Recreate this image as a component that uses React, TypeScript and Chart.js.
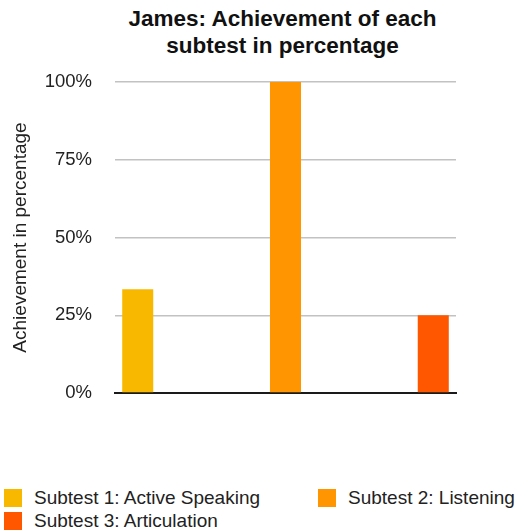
import React, { useEffect, useRef } from "react";
import { Chart, registerables } from "chart.js";

Chart.register(...registerables);

const titleLines = ["James: Achievement of each", "subtest in percentage"];
const categories = ["James"];
const seriesNames = [
  "Subtest 1: Active Speaking",
  "Subtest 2: Listening",
  "Subtest 3: Articulation",
];
const seriesValues = [33.33, 100, 25];
const seriesColors = ["#F9B800", "#FF9500", "#FF5700"];
const yTicks = [0, 25, 50, 75, 100];
const yTitle = "Achievement in percentage";

const FONT = "'Liberation Sans', Arial, Helvetica, sans-serif";

export default function App() {
  const canvasRef = useRef<HTMLCanvasElement | null>(null);

  useEffect(() => {
    const canvas = canvasRef.current;
    if (!canvas) return;
    const chart = new Chart(canvas, {
      type: "bar",
      data: {
        labels: categories,
        datasets: seriesNames.map((name, i) => ({
          label: name,
          data: [seriesValues[i]],
          backgroundColor: seriesColors[i],
          borderWidth: 0,
          categoryPercentage: 1.3,
          barPercentage: 0.21,
        })),
      },
      options: {
        responsive: false,
        animation: false,
        layout: { padding: { top: 12, bottom: 17, right: 72, left: 0 } },
        plugins: {
          legend: { display: false },
          title: { display: false },
          tooltip: { enabled: false },
        },
        scales: {
          x: {
            type: "category",
            ticks: { display: false },
            grid: { display: false, drawTicks: false },
            border: { display: true, color: "#1a1a1a", width: 2 },
          },
          y: {
            min: yTicks[0],
            max: yTicks[yTicks.length - 1],
            afterBuildTicks: (scale: any) => {
              scale.ticks = yTicks.map((v) => ({ value: v }));
            },
            afterFit: (scale: any) => {
              scale.width = 115;
              scale.paddingTop = 0;
              scale.paddingBottom = 0;
            },
            ticks: {
              padding: 23,
              color: "#222",
              font: { family: FONT, size: 18.5 },
              callback: (v: any) => `${v}%`,
            },
            grid: {
              drawTicks: false,
              lineWidth: 1.5,
              color: (ctx: any) =>
                ctx.tick && ctx.tick.value === 0 ? "rgba(0,0,0,0)" : "#c2c2c2",
            },
            border: { display: false },
            title: {
              display: true,
              text: yTitle,
              color: "#222",
              font: { family: FONT, size: 19 },
              padding: { top: 9, bottom: 0 },
            },
          },
        },
      },
    });
    return () => chart.destroy();
  }, []);

  return (
    <div
      style={{
        position: "absolute",
        left: 0,
        top: 0,
        width: 528,
        height: 531,
        background: "#fff",
        fontFamily: FONT,
        color: "#222",
      }}
    >
      <div
        style={{
          position: "absolute",
          left: 82,
          top: 6,
          width: 401,
          textAlign: "center",
          fontWeight: "bold",
          fontSize: 22.5,
          lineHeight: "26.6px",
          whiteSpace: "nowrap",
          color: "#111",
        }}
      >
        {titleLines.map((t, i) => (
          <div key={i}>{t}</div>
        ))}
      </div>
      <div style={{ position: "absolute", left: 0, top: 70, width: 528, height: 340 }}>
        <canvas ref={canvasRef} width={528} height={340} style={{ display: "block" }} />
      </div>
      {seriesNames.map((name, i) => {
        const col = i === 1 ? 1 : 0;
        const row = i === 2 ? 1 : 0;
        const boxLeft = col === 0 ? 4 : 318;
        const centerY = row === 0 ? 498 : 521;
        return (
          <div key={name}>
            <div
              style={{
                position: "absolute",
                left: boxLeft,
                top: centerY - 9,
                width: 18,
                height: 18,
                background: seriesColors[i],
              }}
            />
            <div
              style={{
                position: "absolute",
                left: boxLeft + 30,
                top: centerY - 12,
                height: 24,
                lineHeight: "24px",
                fontSize: 19,
                whiteSpace: "nowrap",
              }}
            >
              {name}
            </div>
          </div>
        );
      })}
    </div>
  );
}
